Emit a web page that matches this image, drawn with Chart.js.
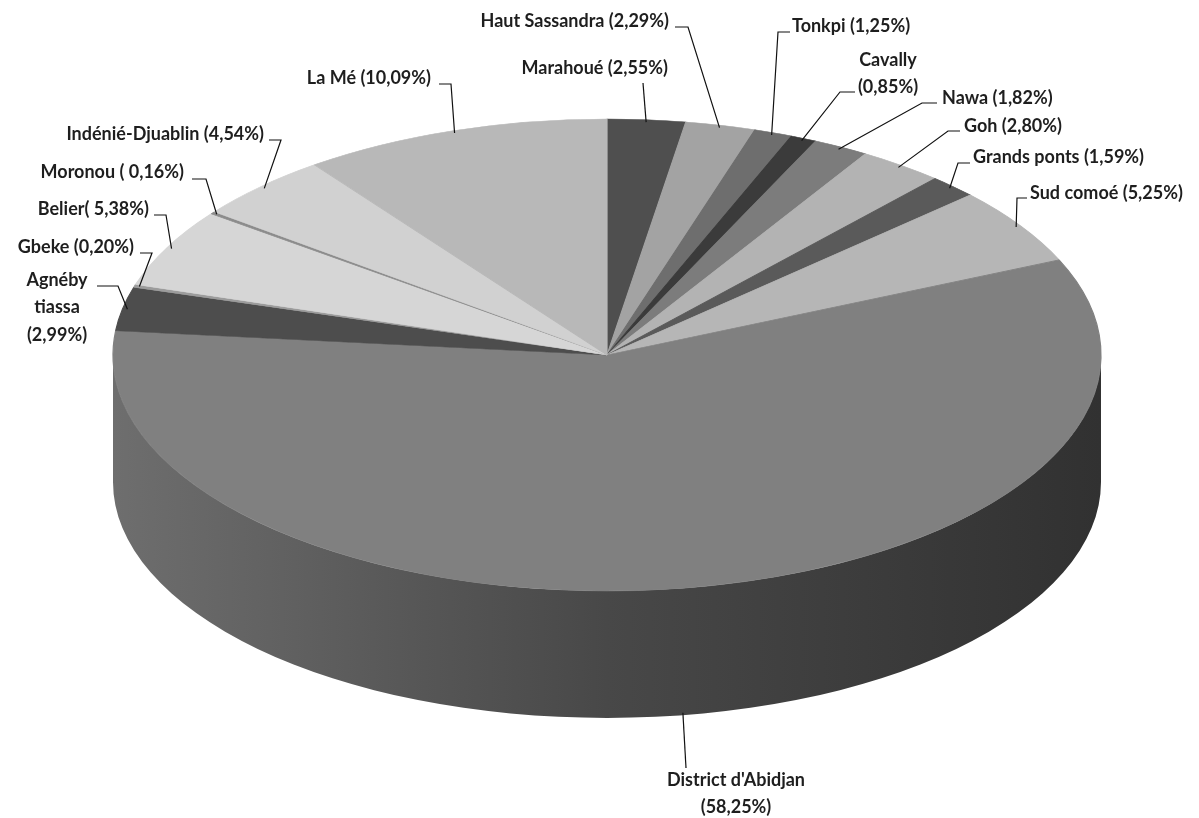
<!DOCTYPE html>
<html>
<head>
<meta charset="utf-8">
<script src="https://cdn.jsdelivr.net/npm/chart.js@4/dist/chart.umd.min.js"></script>
<style>
  body { margin: 0; background: #fff; }
  canvas { display: block; }
</style>
</head>
<body>
<canvas id="pieChart" width="1199" height="818"></canvas>
<script>
// regions, clockwise from 12 o'clock
var regions = ['Marahoué', 'Haut Sassandra', 'Tonkpi', 'Cavally', 'Nawa', 'Goh', 'Grands ponts', 'Sud comoé',
    "District d'Abidjan", 'Agnéby tiassa', 'Gbeke', 'Belier', 'Moronou', 'Indénié-Djuablin', 'La Mé'];
var shares = [2.55, 2.29, 1.25, 0.85, 1.82, 2.80, 1.59, 5.25, 58.25, 2.99, 0.20, 5.38, 0.16, 4.54, 10.09];
// label text, {v} is replaced by the share
var tagFormats = ['Marahoué ({v})', 'Haut Sassandra ({v})', 'Tonkpi ({v})', 'Cavally\n({v})', 'Nawa ({v})',
    'Goh ({v})', 'Grands ponts ({v})', 'Sud comoé ({v})', "District d'Abidjan\n({v})", 'Agnéby\ntiassa\n({v})',
    'Gbeke ({v})', 'Belier( {v})', 'Moronou ( {v})', 'Indénié-Djuablin ({v})', 'La Mé ({v})'];

var fills = ['#4f4f4f', '#a3a3a3', '#6e6e6e', '#3b3b3b', '#7c7c7c', '#b3b3b3', '#5a5a5a', '#b6b6b6',
    '#808080', '#4d4d4d', '#9c9c9c', '#d6d6d6', '#8c8c8c', '#d1d1d1', '#b8b8b8'];

// ellipse of the tilted top face + thickness of the disc
var CX = 607, CY = 355, RX = 494, RY = 236, DEPTH = 127;

// where each label sits: text x, first line y, alignment, leader points before the slice
var tagSpots = [
    { x: 668, y: 68, align: 'right', lead: [[643, 83]] },
    { x: 669, y: 21, align: 'right', lead: [[675, 27], [688, 27]] },
    { x: 792, y: 26, align: 'left', lead: [[790, 32], [778, 32]] },
    { x: 888, y: 60, align: 'center', lead: [[855, 92], [840, 92]] },
    { x: 942, y: 98, align: 'left', lead: [[937, 103], [922, 103]] },
    { x: 964, y: 126, align: 'left', lead: [[960, 131], [948, 131]] },
    { x: 973, y: 157, align: 'left', lead: [[970, 163], [958, 163]] },
    { x: 1030, y: 193, align: 'left', lead: [[1027, 198], [1017, 198]] },
    { x: 736, y: 780, align: 'center', lead: [[686, 768]] },
    { x: 57, y: 280, align: 'center', lead: [[97, 286], [118, 286]] },
    { x: 134, y: 247, align: 'right', lead: [[140, 253], [152, 253]] },
    { x: 149, y: 209, align: 'right', lead: [[154, 215], [166, 215]] },
    { x: 184, y: 172, align: 'right', lead: [[192, 179], [206, 179]] },
    { x: 264, y: 134, align: 'right', lead: [[269, 140], [281, 140]] },
    { x: 431, y: 78, align: 'right', lead: [[439, 84], [451, 84]] }
];

function shade(hex, k) {
    var n = parseInt(hex.slice(1), 16);
    var r = Math.round(((n >> 16) & 255) * k), g = Math.round(((n >> 8) & 255) * k), b = Math.round((n & 255) * k);
    return 'rgb(' + r + ',' + g + ',' + b + ')';
}

// draws the front wall, then squashes the pie into the ellipse
var tilt = {
    id: 'tilt',
    beforeDatasetsDraw: function(chart) {
        var ctx = chart.ctx;
        var arcs = chart.getDatasetMeta(0).data;
        arcs.forEach(function(arc, i) {
            var a0 = Math.max(arc.startAngle, 0), a1 = Math.min(arc.endAngle, Math.PI);
            if (a1 <= a0) return;
            var g = ctx.createLinearGradient(CX - RX, 0, CX + RX, 0);
            g.addColorStop(0, shade(fills[i], 0.86));
            g.addColorStop(0.5, shade(fills[i], 0.56));
            g.addColorStop(1, shade(fills[i], 0.38));
            ctx.beginPath();
            ctx.ellipse(CX, CY, RX, RY, 0, a0, a1);
            ctx.ellipse(CX, CY + DEPTH, RX, RY, 0, a1, a0, true);
            ctx.closePath();
            ctx.fillStyle = g;
            ctx.fill();
        });
        var a = arcs[0];
        ctx.save();
        ctx.translate(CX, CY);
        ctx.scale(RX / a.outerRadius, RY / a.outerRadius);
        ctx.translate(-a.x, -a.y);
    },
    afterDatasetsDraw: function(chart) {
        chart.ctx.restore();
    }
};

// labels with leader lines to the rim of each slice
var tags = {
    id: 'tags',
    afterDraw: function(chart) {
        var ctx = chart.ctx;
        var arcs = chart.getDatasetMeta(0).data;
        ctx.save();
        ctx.font = 'bold 18px Lato, "Open Sans", sans-serif';
        ctx.textBaseline = 'middle';
        ctx.fillStyle = '#1e1e1e';
        ctx.strokeStyle = '#111';
        ctx.lineWidth = 1.2;
        arcs.forEach(function(arc, i) {
            var spot = tagSpots[i];
            var pct = shares[i].toFixed(2).replace('.', ',') + '%';
            var lines = tagFormats[i].replace('{v}', pct).split('\n');
            ctx.textAlign = spot.align;
            lines.forEach(function(t, j) { ctx.fillText(t, spot.x, spot.y + j * 27.5); });

            var mid = (arc.startAngle + arc.endAngle) / 2;
            var ex = CX + RX * 0.99 * Math.cos(mid);
            var ey = CY + RY * 0.99 * Math.sin(mid);
            if (Math.sin(mid) > 0.3) ey += DEPTH;
            ctx.beginPath();
            ctx.moveTo(spot.lead[0][0], spot.lead[0][1]);
            for (var k = 1; k < spot.lead.length; k++) ctx.lineTo(spot.lead[k][0], spot.lead[k][1]);
            ctx.lineTo(ex, ey);
            ctx.stroke();
        });
        ctx.restore();
    }
};

var ctx = document.getElementById('pieChart').getContext('2d');
var pieChart = new Chart(ctx, {
    type: 'pie',
    data: {
        labels: regions,
        datasets: [{
            data: shares,
            backgroundColor: fills,
            borderColor: fills,
            borderWidth: 1,
            clip: false
        }]
    },
    options: {
        responsive: false,
        animation: false,
        events: [],
        plugins: {
            legend: { display: false },
            tooltip: { enabled: false }
        }
    },
    plugins: [tilt, tags]
});
</script>
</body>
</html>
